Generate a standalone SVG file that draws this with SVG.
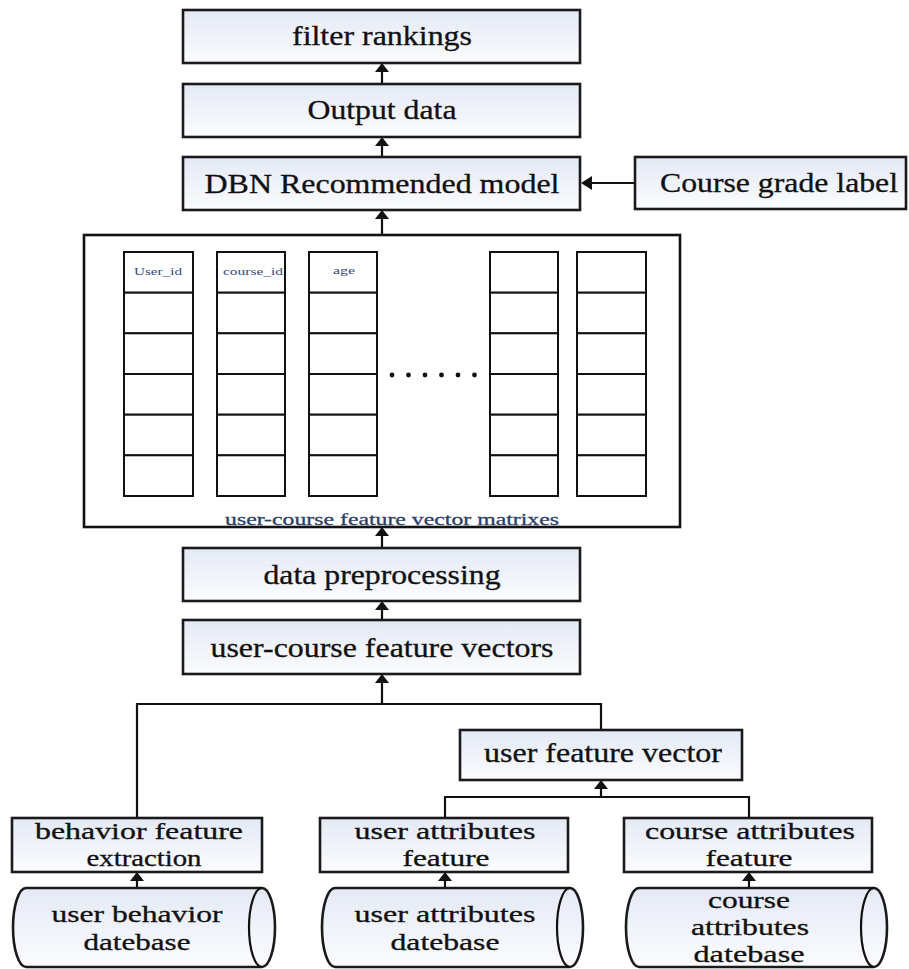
<svg xmlns="http://www.w3.org/2000/svg" width="909" height="969" viewBox="0 0 909 969">
<defs>
<linearGradient id="g" x1="0" y1="0" x2="0" y2="1">
<stop offset="0" stop-color="#e4e9f5"/>
<stop offset="1" stop-color="#fbfcfe"/>
</linearGradient>
</defs>
<style>
.box{fill:url(#g);stroke:#1a1a1a;stroke-width:2.6}
.t{font-family:"Liberation Serif","Times New Roman",serif;font-size:27px;fill:#111;text-anchor:middle;stroke:#111;stroke-width:0.3}
.t2{font-size:23px}
.cell{fill:#fff;stroke:#111;stroke-width:2}
.h{font-family:"Liberation Serif",serif;font-size:10px;fill:#3a4a78;text-anchor:middle}
.ln{fill:none;stroke:#111;stroke-width:2.2}
.ah{fill:#111}
</style>
<rect width="909" height="969" fill="#fff"/>

<g id="connectors">
<line class="ln" x1="382" y1="84" x2="382" y2="70"/><polygon class="ah" points="375,72 389,72 382,63"/>
<line class="ln" x1="382" y1="157" x2="382" y2="144"/><polygon class="ah" points="375,146 389,146 382,137"/>
<line class="ln" x1="382" y1="235" x2="382" y2="217"/><polygon class="ah" points="375,219 389,219 382,210"/>
<line class="ln" x1="382" y1="548" x2="382" y2="534"/><polygon class="ah" points="375,536 389,536 382,527"/>
<line class="ln" x1="382" y1="620" x2="382" y2="608"/><polygon class="ah" points="375,610 389,610 382,601"/>
<line class="ln" x1="382" y1="704" x2="382" y2="681"/><polygon class="ah" points="375,683 389,683 382,674"/>
<polyline class="ln" points="137,818 137,704 601,704 601,730"/>
<line class="ln" x1="601" y1="797" x2="601" y2="787"/><polygon class="ah" points="594,789 608,789 601,780"/>
<polyline class="ln" points="445,818 445,797 749,797 749,818"/>
<line class="ln" x1="137" y1="888" x2="137" y2="879"/><polygon class="ah" points="130,881 144,881 137,872"/>
<line class="ln" x1="445" y1="888" x2="445" y2="879"/><polygon class="ah" points="438,881 452,881 445,872"/>
<line class="ln" x1="749" y1="888" x2="749" y2="879"/><polygon class="ah" points="742,881 756,881 749,872"/>
<line class="ln" x1="635" y1="183" x2="590" y2="183"/><polygon class="ah" points="592,176 592,190 581,183"/>
</g>

<g id="filter-rankings"><rect class="box" x="183" y="10" width="397" height="53"/><text class="t" x="382" y="45" textLength="180" lengthAdjust="spacingAndGlyphs">filter rankings</text></g>
<g id="output-data"><rect class="box" x="183" y="84" width="397" height="53"/><text class="t" x="382" y="119" textLength="149" lengthAdjust="spacingAndGlyphs">Output data</text></g>
<g id="dbn"><rect class="box" x="183" y="157" width="397" height="53"/><text class="t" x="382" y="193" textLength="355" lengthAdjust="spacingAndGlyphs">DBN Recommended model</text></g>
<g id="course-grade"><rect class="box" x="635" y="157" width="271" height="52"/><text class="t" x="779" y="192" textLength="238" lengthAdjust="spacingAndGlyphs">Course grade label</text></g>

<g id="matrix">
<rect x="84" y="235" width="596" height="292" fill="#fff" stroke="#111" stroke-width="2.6"/>
<g>
<rect class="cell" x="124" y="252" width="69" height="40.7"/><rect class="cell" x="124" y="292.7" width="69" height="40.7"/><rect class="cell" x="124" y="333.3" width="69" height="40.7"/><rect class="cell" x="124" y="374" width="69" height="40.7"/><rect class="cell" x="124" y="414.7" width="69" height="40.7"/><rect class="cell" x="124" y="455.3" width="69" height="40.7"/>
<rect class="cell" x="217" y="252" width="68" height="40.7"/><rect class="cell" x="217" y="292.7" width="68" height="40.7"/><rect class="cell" x="217" y="333.3" width="68" height="40.7"/><rect class="cell" x="217" y="374" width="68" height="40.7"/><rect class="cell" x="217" y="414.7" width="68" height="40.7"/><rect class="cell" x="217" y="455.3" width="68" height="40.7"/>
<rect class="cell" x="309" y="252" width="68" height="40.7"/><rect class="cell" x="309" y="292.7" width="68" height="40.7"/><rect class="cell" x="309" y="333.3" width="68" height="40.7"/><rect class="cell" x="309" y="374" width="68" height="40.7"/><rect class="cell" x="309" y="414.7" width="68" height="40.7"/><rect class="cell" x="309" y="455.3" width="68" height="40.7"/>
<rect class="cell" x="490" y="252" width="68" height="40.7"/><rect class="cell" x="490" y="292.7" width="68" height="40.7"/><rect class="cell" x="490" y="333.3" width="68" height="40.7"/><rect class="cell" x="490" y="374" width="68" height="40.7"/><rect class="cell" x="490" y="414.7" width="68" height="40.7"/><rect class="cell" x="490" y="455.3" width="68" height="40.7"/>
<rect class="cell" x="577" y="252" width="69" height="40.7"/><rect class="cell" x="577" y="292.7" width="69" height="40.7"/><rect class="cell" x="577" y="333.3" width="69" height="40.7"/><rect class="cell" x="577" y="374" width="69" height="40.7"/><rect class="cell" x="577" y="414.7" width="69" height="40.7"/><rect class="cell" x="577" y="455.3" width="69" height="40.7"/>
</g>
<text class="h" x="158" y="275" textLength="48" lengthAdjust="spacingAndGlyphs">User_id</text>
<text class="h" x="253" y="275" textLength="60" lengthAdjust="spacingAndGlyphs">course_id</text>
<text class="h" x="344" y="274" textLength="22" lengthAdjust="spacingAndGlyphs">age</text>
<g fill="#111"><circle cx="392" cy="375" r="2.4"/><circle cx="408.5" cy="375" r="2.4"/><circle cx="425" cy="375" r="2.4"/><circle cx="441.5" cy="375" r="2.4"/><circle cx="458" cy="375" r="2.4"/><circle cx="474.5" cy="375" r="2.4"/></g>
<text x="392" y="525" font-family="'Liberation Serif',serif" font-size="17" fill="#2c3e66" stroke="#2c3e66" stroke-width="0.3" text-anchor="middle" textLength="334" lengthAdjust="spacingAndGlyphs">user-course feature vector matrixes</text>
</g>

<g id="data-preprocessing"><rect class="box" x="183" y="548" width="397" height="53"/><text class="t" x="382" y="584" textLength="237" lengthAdjust="spacingAndGlyphs">data preprocessing</text></g>
<g id="user-course-vectors"><rect class="box" x="183" y="620" width="397" height="54"/><text class="t" x="382" y="657" textLength="343" lengthAdjust="spacingAndGlyphs">user-course feature vectors</text></g>
<g id="user-feature-vector"><rect class="box" x="460" y="730" width="282" height="50"/><text class="t" x="603" y="762" textLength="238" lengthAdjust="spacingAndGlyphs">user feature vector</text></g>

<g id="behavior-extraction"><rect class="box" x="12" y="818" width="250" height="54"/><text class="t t2" x="139" y="839" textLength="208" lengthAdjust="spacingAndGlyphs">behavior feature</text><text class="t t2" x="144" y="866" textLength="115" lengthAdjust="spacingAndGlyphs">extraction</text></g>
<g id="user-attr-feature"><rect class="box" x="320" y="818" width="248" height="54"/><text class="t t2" x="445" y="839" textLength="181" lengthAdjust="spacingAndGlyphs">user attributes</text><text class="t t2" x="446" y="866" textLength="87" lengthAdjust="spacingAndGlyphs">feature</text></g>
<g id="course-attr-feature"><rect class="box" x="624" y="818" width="248" height="54"/><text class="t t2" x="750" y="839" textLength="210" lengthAdjust="spacingAndGlyphs">course attributes</text><text class="t t2" x="749" y="866" textLength="87" lengthAdjust="spacingAndGlyphs">feature</text></g>

<g id="user-behavior-db">
<path class="box" d="M26,888 L262,888 A13,39.5 0 0 1 262,967 L26,967 A13,39.5 0 0 1 26,888 Z"/>
<path class="ln" d="M262,888 A13,39.5 0 0 0 262,967" stroke-width="2.4"/>
<text class="t t2" x="137" y="922" textLength="171" lengthAdjust="spacingAndGlyphs">user behavior</text>
<text class="t t2" x="137" y="950" textLength="107" lengthAdjust="spacingAndGlyphs">datebase</text>
</g>
<g id="user-attr-db">
<path class="box" d="M335,888 L570,888 A13,39.5 0 0 1 570,967 L335,967 A13,39.5 0 0 1 335,888 Z"/>
<path class="ln" d="M570,888 A13,39.5 0 0 0 570,967" stroke-width="2.4"/>
<text class="t t2" x="445" y="922" textLength="181" lengthAdjust="spacingAndGlyphs">user attributes</text>
<text class="t t2" x="445" y="950" textLength="109" lengthAdjust="spacingAndGlyphs">datebase</text>
</g>
<g id="course-attr-db">
<path class="box" d="M639,888 L874,888 A13,39.5 0 0 1 874,967 L639,967 A13,39.5 0 0 1 639,888 Z"/>
<path class="ln" d="M874,888 A13,39.5 0 0 0 874,967" stroke-width="2.4"/>
<text class="t t2" x="749" y="908" textLength="82" lengthAdjust="spacingAndGlyphs">course</text>
<text class="t t2" x="750" y="935" textLength="118" lengthAdjust="spacingAndGlyphs">attributes</text>
<text class="t t2" x="749" y="962" textLength="111" lengthAdjust="spacingAndGlyphs">datebase</text>
</g>
</svg>
